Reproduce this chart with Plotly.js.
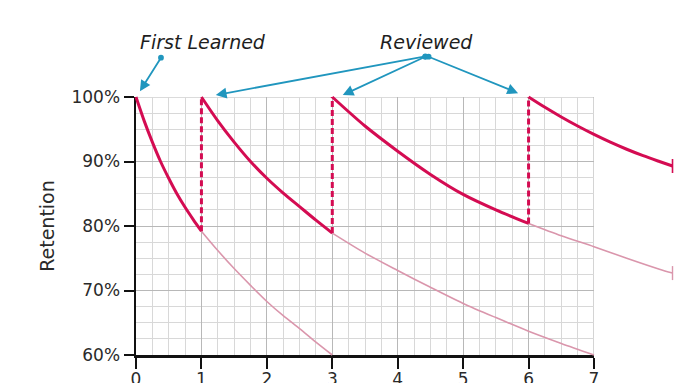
<!DOCTYPE html>
<html>
<head>
<meta charset="utf-8">
<script src="https://cdn.plot.ly/plotly-3.0.1.min.js"></script>
<style>html,body{margin:0;padding:0;background:#fff;}#chart{width:696px;height:383px;}</style>
</head>
<body>
<div id="chart"></div>
<script>
// ---- data ----
const xTickVals = [0,1,2,3,4,5,6,7];
const xTickText = ["0","1","2","3","4","5","6","7"];
const yTickVals = [60,70,80,90,100];
const yTickText = ["60%","70%","80%","90%","100%"];

// bold (active) curves
const c1T = [0,0.125,0.25,0.375,0.5,0.625,0.75,0.875,1];
const c1R = [100,96.3,93.0,90.0,87.4,85.0,82.9,81.0,79.2];
const c2T = [1,1.25,1.5,1.75,2,2.25,2.5,2.75,3];
const c2R = [100,96.3,93.0,90.0,87.4,85.1,83.0,80.9,78.9];
const c3T = [3,3.5,4,4.5,5,5.5,6];
const c3R = [100,95.5,91.6,88.0,84.9,82.5,80.4];
const c4T = [6,6.25,6.5,6.75,7,7.25,7.5,7.75,8,8.2];
const c4R = [100,98.4,96.9,95.5,94.2,93.0,91.9,90.9,90.0,89.3];

// faded (forgetting without review) curves
const f1T = [1,1.25,1.5,1.75,2,2.25,2.5,2.75,3];
const f1R = [79.2,76.2,73.4,70.8,68.3,66.1,64.1,62.0,60.0];
const f2T = [3,3.5,4,4.5,5,5.5,6,6.5,7];
const f2R = [78.9,75.8,73.1,70.5,68.0,65.8,63.7,61.8,60.0];
const f3T = [6,6.5,7,7.5,8,8.2];
const f3R = [80.4,78.5,76.8,75.0,73.3,72.7];

// review jumps
const reviewT = [1,3,6];
const reviewLow = [79.2,78.9,80.4];
const reviewHigh = [100,100,100];

// ---- layout geometry (pixels) ----
const W = 696, H = 383;
const mL = 120, mR = 6, mT = 80, mB = 20;
const gridL = 136, gridR = 594, gridT = 97, gridB = 355;
const xMin = 0, xMax = 7, yMin = 60, yMax = 100;
const pw = W - mL - mR, ph = H - mT - mB;
const pxX = (gridR - gridL) / (xMax - xMin);
const pxY = (gridB - gridT) / (yMax - yMin);
const xDom = [(gridL - mL) / pw, (gridR - mL) / pw];
const yDom = [(H - mB - gridB) / ph, (H - mB - gridT) / ph];
const x2Range = [xMin - (gridL - mL) / pxX, xMin + (W - mR - gridL) / pxX];
const y2Range = [yMin - (H - mB - gridB) / pxY, yMax + (gridT - mT) / pxY];
const paperX = px => (px - mL) / pw;
const paperY = py => (H - mB - py) / ph;

const BOLD = 'rgb(212,12,82)';
const FADE = 'rgb(218,150,172)';
const TEAL = 'rgb(32,150,190)';
const FONT = 'DejaVu Sans, Verdana, sans-serif';

function line(t, r, color, width, dash) {
  return {x: t, y: r, xaxis: 'x2', yaxis: 'y2', type: 'scatter', mode: 'lines',
    line: {color: color, width: width, shape: 'spline', smoothing: 0.8, dash: dash || 'solid'},
    hoverinfo: 'skip', showlegend: false};
}

const traces = [];
traces.push(line(f1T, f1R, FADE, 1.6));
traces.push(line(f2T, f2R, FADE, 1.6));
traces.push(line(f3T, f3R, FADE, 1.6));
traces.push(line(c1T, c1R, BOLD, 3));
traces.push(line(c2T, c2R, BOLD, 3));
traces.push(line(c3T, c3R, BOLD, 3));
traces.push(line(c4T, c4R, BOLD, 3));
for (let i = 0; i < reviewT.length; i++) {
  traces.push({x: [reviewT[i], reviewT[i]], y: [reviewLow[i], reviewHigh[i]], xaxis: 'x2', yaxis: 'y2',
    type: 'scatter', mode: 'lines', line: {color: BOLD, width: 3, dash: '6px,3px'},
    hoverinfo: 'skip', showlegend: false});
}
// end marks
traces.push({x: [c4T[c4T.length-1]], y: [c4R[c4R.length-1]], xaxis: 'x2', yaxis: 'y2', type: 'scatter', mode: 'markers',
  marker: {symbol: 'line-ns-open', size: 10, color: BOLD, line: {color: BOLD, width: 1.6}}, hoverinfo: 'skip', showlegend: false});
traces.push({x: [f3T[f3T.length-1]], y: [f3R[f3R.length-1]], xaxis: 'x2', yaxis: 'y2', type: 'scatter', mode: 'markers',
  marker: {symbol: 'line-ns-open', size: 10, color: FADE, line: {color: FADE, width: 1.4}}, hoverinfo: 'skip', showlegend: false});

function arrow(x, y, ax, ay) {
  return {x: x, y: y, xref: 'x2', yref: 'y2', ax: ax, ay: ay, text: '', showarrow: true,
    arrowcolor: TEAL, arrowwidth: 1.8, arrowhead: 2, arrowsize: 1.2,
    arrowside: 'end+start', startarrowhead: 6, startarrowsize: 0.8};
}

const layout = {
  width: W, height: H,
  margin: {l: mL, r: mR, t: mT, b: mB, pad: 0},
  paper_bgcolor: '#ffffff', plot_bgcolor: 'rgba(0,0,0,0)',
  font: {family: FONT, color: '#2a2a2a'},
  showlegend: false,
  xaxis: {domain: xDom, range: [xMin, xMax], anchor: 'y',
    tickvals: xTickVals, ticktext: xTickText, tickfont: {size: 17, color: '#2a2a2a'},
    ticks: 'outside', ticklen: 11, tickwidth: 2, tickcolor: '#111', ticklabelstandoff: -4,
    showline: true, linecolor: '#111', linewidth: 2.5,
    showgrid: true, gridcolor: '#b8b8b8', gridwidth: 1, zeroline: false,
    minor: {dtick: 0.25, showgrid: true, gridcolor: '#d8d8d8', gridwidth: 1, ticks: ''},
    fixedrange: true},
  yaxis: {domain: yDom, range: [yMin, yMax], anchor: 'x',
    tickvals: yTickVals, ticktext: yTickText, tickfont: {size: 17, color: '#2a2a2a'},
    ticks: 'outside', ticklen: 10, tickwidth: 2, tickcolor: '#111',
    showline: true, linecolor: '#111', linewidth: 2.5,
    showgrid: true, gridcolor: '#b8b8b8', gridwidth: 1, zeroline: false,
    minor: {dtick: 2.5, showgrid: true, gridcolor: '#d8d8d8', gridwidth: 1, ticks: ''},
    title: {text: 'Retention', font: {size: 19, color: '#2a2a2a'}, standoff: 12},
    fixedrange: true},
  xaxis2: {domain: [0, 1], range: x2Range, anchor: 'y2', visible: false, fixedrange: true},
  yaxis2: {domain: [0, 1], range: y2Range, anchor: 'x2', visible: false, fixedrange: true},
  shapes: [
    {type: 'line', xref: 'x', yref: 'y', x0: xMin, x1: xMax, y0: yMax, y1: yMax, line: {color: '#b8b8b8', width: 1.2}, layer: 'below'},
    {type: 'line', xref: 'x', yref: 'y', x0: xMax, x1: xMax, y0: yMin, y1: yMax, line: {color: '#b8b8b8', width: 1.2}, layer: 'below'}
  ],
  annotations: [
    {x: paperX(203), y: paperY(42), xref: 'paper', yref: 'paper', xanchor: 'center', yanchor: 'middle',
      text: 'First Learned', showarrow: false, font: {size: 19, style: 'italic', color: '#1e1e1e'}},
    {x: paperX(426), y: paperY(42), xref: 'paper', yref: 'paper', xanchor: 'center', yanchor: 'middle',
      text: 'Reviewed', showarrow: false, font: {size: 19, style: 'italic', color: '#1e1e1e'}},
    arrow(0.06, 100.9, 22, -35),
    arrow(1.22, 100.3, 211, -39),
    arrow(3.16, 100.3, 84, -39),
    arrow(5.84, 100.6, -91, -37)
  ]
};

Plotly.newPlot('chart', traces, layout, {staticPlot: true, displayModeBar: false});
</script>
</body>
</html>
